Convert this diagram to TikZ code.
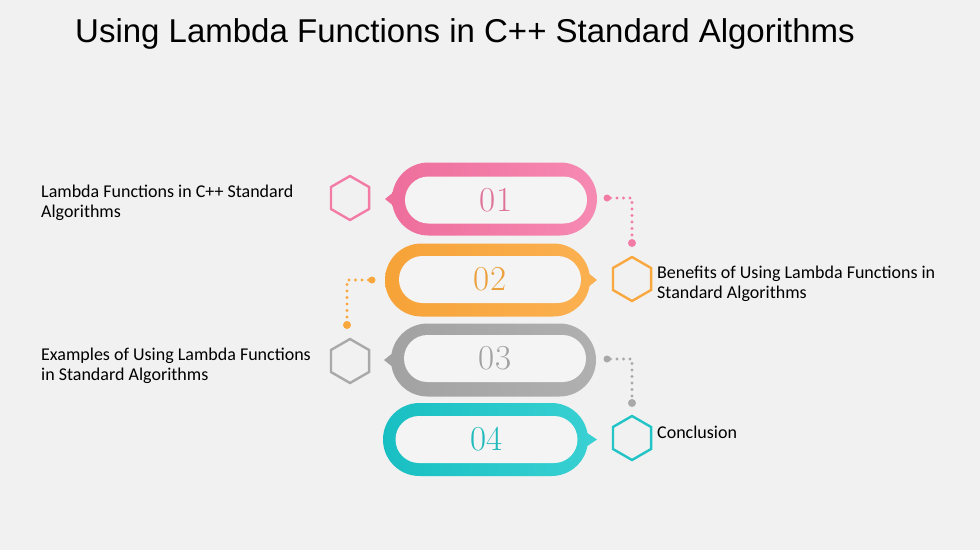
\documentclass[tikz,border=0pt]{standalone}
\usepackage{fontspec}
\newfontfamily\bodyfont{Carlito}
\newfontfamily\titlefont{Liberation Sans}
\usetikzlibrary{shapes.misc,shapes.geometric}
\definecolor{bg}{HTML}{F1F1F1}
\definecolor{innerbg}{HTML}{F4F4F4}
\definecolor{cpink}{HTML}{F27CA6}
\definecolor{cpinkL}{HTML}{EE6E9C}
\definecolor{cpinkR}{HTML}{F68AB2}
\definecolor{corange}{HTML}{F8A83E}
\definecolor{corangeL}{HTML}{F6A338}
\definecolor{corangeR}{HTML}{FBB050}
\definecolor{cgray}{HTML}{A9A9A9}
\definecolor{cgrayL}{HTML}{A2A2A2}
\definecolor{cgrayR}{HTML}{B0B0B0}
\definecolor{cteal}{HTML}{22C4C6}
\definecolor{ctealL}{HTML}{18BFC2}
\definecolor{ctealR}{HTML}{38D0D2}
\tikzset{
  pillout/.style={rounded rectangle, minimum width=205pt, minimum height=73pt, inner sep=0pt, outer sep=0pt, left color=#1L, right color=#1R},
  pillin/.style={rounded rectangle, minimum width=182pt, minimum height=47pt, inner sep=0pt, outer sep=0pt, fill=innerbg, text=#1, font=\fontsize{35}{35}\selectfont\addfontfeature{FakeBold=0.8}},
  hexa/.style={regular polygon, regular polygon sides=6, shape border rotate=30, minimum size=44pt, inner sep=0pt, line width=2.4pt, draw=#1},
  lbl/.style={font=\bodyfont\fontsize{18}{19.5}\selectfont, align=left, inner sep=0pt, anchor=west, text=black},
  dotline/.style={draw=#1, line width=3.2pt, line cap=round, dash pattern=on 0pt off 6.5pt},
  enddot/.style={circle, fill=#1, inner sep=0pt, minimum size=8pt, outer sep=0pt},
  startdot/.style={circle, fill=#1, inner sep=0pt, minimum size=7pt, outer sep=0pt}
}
\begin{document}
\begin{tikzpicture}[x=1pt,y=-1pt]
\fill[bg] (0,0) rectangle (980,550);
\useasboundingbox (0,0) rectangle (980,550);

% title
\node[font=\titlefont\fontsize{33}{36}\selectfont, anchor=base west, inner sep=0pt] (title) at (75,42) {Using Lambda Functions in C++ Standard Algorithms};

% pills
\node[pillout=cpink] (p1) at (494.5,199) {};
\node[pillout=corange] (p2) at (487.5,280) {};
\node[pillout=cgray] (p3) at (493.5,360) {};
\node[pillout=cteal] (p4) at (485.5,439.5) {};

% pointers
\fill[cpinkL] ([xshift=3pt,yshift=-8pt]p1.west) -- ([xshift=-7pt]p1.west) -- ([xshift=3pt,yshift=8pt]p1.west) -- cycle;
\fill[corangeR] ([xshift=-3pt,yshift=-8pt]p2.east) -- ([xshift=7pt]p2.east) -- ([xshift=-3pt,yshift=8pt]p2.east) -- cycle;
\fill[cgrayL] ([xshift=3pt,yshift=-8pt]p3.west) -- ([xshift=-7pt]p3.west) -- ([xshift=3pt,yshift=8pt]p3.west) -- cycle;
\fill[ctealR] ([xshift=-3pt,yshift=-8pt]p4.east) -- ([xshift=9pt]p4.east) -- ([xshift=-3pt,yshift=8pt]p4.east) -- cycle;

% inner parts with numbers
\node[pillin=cpink!92!black] (n1) at (496,200) {01};
\node[pillin=corange!95!black] (n2) at (490,279.5) {02};
\node[pillin=cgray!95!black] (n3) at (495,358.5) {03};
\node[pillin=cteal!95!black] (n4) at (486.5,439.5) {04};

% hexagons
\node[hexa=cpink] (h1) at (350,198) {};
\node[hexa=corange] (h2) at (632,279) {};
\node[hexa=cgray] (h3) at (350,361) {};
\node[hexa=cteal] (h4) at (632,438) {};

% dotted connectors
\node[startdot=cpink] (d1a) at (607,198) {};
\node[enddot=cpink] (d1b) at (632,243) {};
\draw[dotline=cpink] (d1a) -| (d1b);
\node[startdot=corange] (d2a) at (372,280) {};
\node[enddot=corange] (d2b) at (347,325) {};
\draw[dotline=corange] (d2a) -| (d2b);
\node[startdot=cgray] (d3a) at (607,359) {};
\node[enddot=cgray] (d3b) at (632,403) {};
\draw[dotline=cgray] (d3a) -| (d3b);

% labels
\node[lbl] (t1) at (41,203) {Lambda Functions in C++ Standard\\Algorithms};
\node[lbl] (t2) at (657,284) {Benefits of Using Lambda Functions in\\Standard Algorithms};
\node[lbl] (t3) at (41,366) {Examples of Using Lambda Functions\\in Standard Algorithms};
\node[lbl] (t4) at (657,432) {Conclusion};
\end{tikzpicture}
\end{document}
